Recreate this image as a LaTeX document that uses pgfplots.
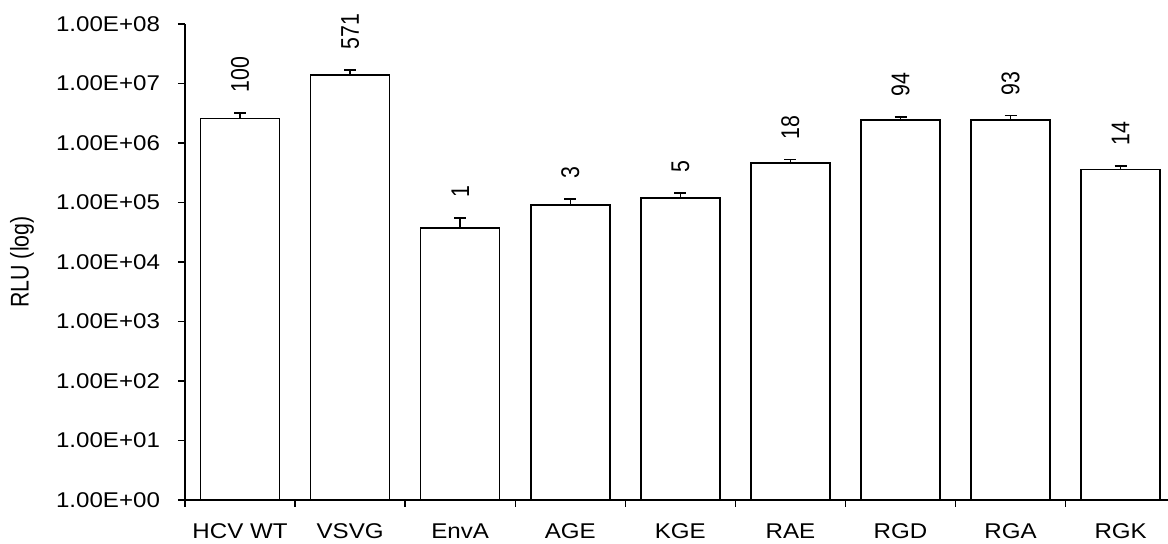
\documentclass[border=0pt]{standalone}
\usepackage{pgfplots}
\pgfplotsset{compat=1.18}
\usepackage{pgfplotstable}
\usepackage{graphicx}
\usepackage{fontspec}
\setmainfont[FakeStretch=1.13]{Liberation Sans}
\newfontfamily\plainfont{Liberation Sans}

\pgfplotstableread{
x y ey top lab
0 2.6e6 0.6e6 3.2e6 100
1 1.38e7 0.32e7 1.7e7 571
2 3.7e4 1.8e4 5.5e4 1
3 9.1e4 2.4e4 1.15e5 3
4 1.2e5 2.5e4 1.45e5 5
5 4.6e5 0.7e5 5.3e5 18
6 2.45e6 0.3e6 2.75e6 94
7 2.45e6 0.45e6 2.9e6 93
8 3.6e5 0.5e5 4.1e5 14
}\data

\begin{document}
\fontsize{16}{19}\selectfont
\begin{tikzpicture}
\useasboundingbox (-138.75pt,-32.25pt) rectangle (737.25pt,375pt);
\begin{axis}[
  at={(0,0)}, anchor=south west, scale only axis,
  width=737.25pt, height=357pt,
  ymode=log, ymin=1, ymax=1e8,
  xmin=-0.5, xmax=8.43,
  axis x line*=bottom, axis y line*=left,
  axis line style={line width=1.1pt, black},
  every tick/.style={line width=1.1pt, black},
  tick align=outside, major tick length=5.25pt,
  xminorticks=false, yminorticks=false,
  ytick={1,10,100,1000,10000,100000,1000000,10000000,100000000},
  yticklabels={1.00E+00,1.00E+01,1.00E+02,1.00E+03,1.00E+04,1.00E+05,1.00E+06,1.00E+07,1.00E+08},
  yticklabel style={xshift=-8pt},
  xtick={-0.5,0.5,1.5,2.5,3.5,4.5,5.5,6.5,7.5},
  xticklabels={},
  extra x ticks={0,1,2,3,4,5,6,7,8},
  extra x tick labels={HCV WT,VSVG,EnvA,AGE,KGE,RAE,RGD,RGA,RGK},
  extra x tick style={major tick length=0pt, tick style={draw=none}, xticklabel style={inner ysep=0pt, yshift=-17.3pt}},
  /pgf/number format/assume math mode=true,
  ylabel={\scalebox{1}[1.2]{\plainfont RLU (log)}},
  ylabel style={at={(axis description cs:-0.1658,0.5)}, anchor=center},
]
\addplot[ybar, bar width=59.25pt, draw=black, fill=white, line width=1.1pt,
  error bars/.cd, y dir=plus, y explicit,
  error bar style={line width=1.1pt, black},
  error mark options={rotate=90, mark size=4.5pt, line width=1.1pt, black}]
  table[x=x, y=y, y error=ey]{\data};
\addplot[only marks, mark=none, nodes near coords={\scalebox{1}[1.2]{\pgfplotspointmeta}},
  point meta=explicit symbolic,
  nodes near coords style={font=\plainfont, rotate=90, anchor=west, inner xsep=15pt, inner ysep=0pt, text=black}]
  table[x=x, y=top, meta=lab]{\data};
\end{axis}
\end{tikzpicture}
\end{document}
